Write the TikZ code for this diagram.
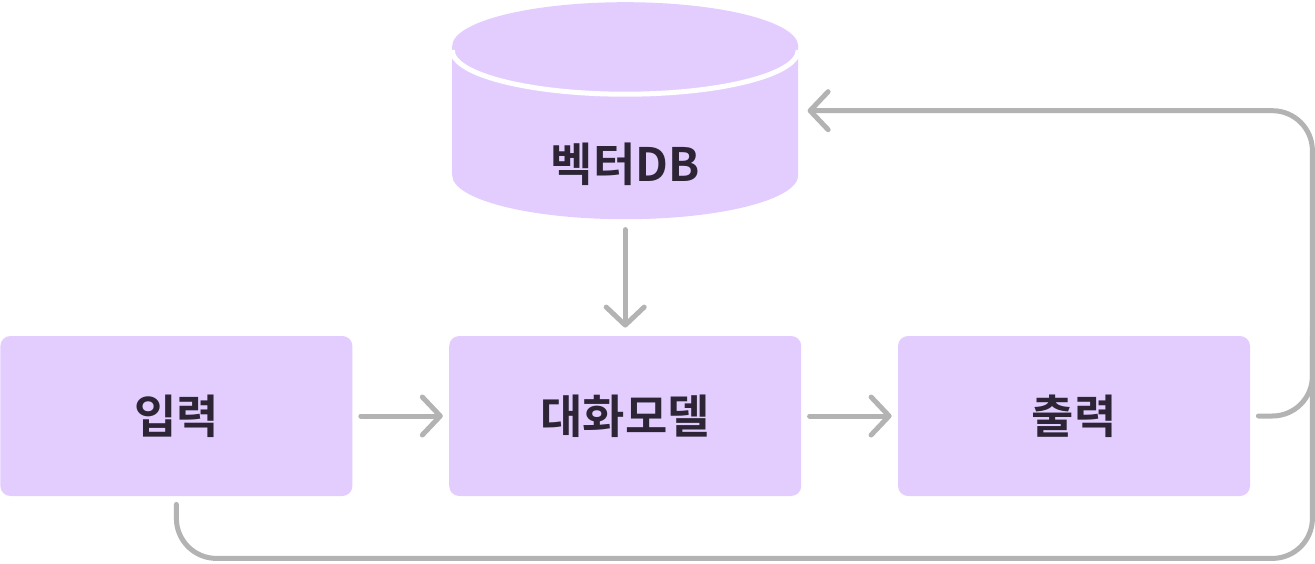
\documentclass[tikz,border=0pt]{standalone}
\usepackage{fontspec}
\setmainfont{Noto Sans CJK KR}[BoldFont={Noto Sans CJK KR Bold}]
\usepackage{tikz}
\usetikzlibrary{arrows.meta, positioning, calc}
\definecolor{lilac}{RGB}{227,205,255}
\definecolor{ink}{RGB}{45,37,54}
\definecolor{wire}{RGB}{179,179,179}
\def\lil{lilac}
\tikzstyle{box} = [rectangle, rounded corners=5pt, minimum width=176pt, minimum height=80pt, fill=\lil, text=ink, font=\bfseries\fontsize{23}{26}\selectfont]
\tikzstyle{cyl} = [rectangle, inner sep=0pt, minimum width=173pt, minimum height=108.5pt, path picture={
  \fill[\lil] ([yshift=-22pt]path picture bounding box.north west) -- ([yshift=22pt]path picture bounding box.south west)
    arc (180:360:86.5pt and 22pt) -- ([yshift=-22pt]path picture bounding box.north east)
    arc (0:180:86.5pt and 22pt) -- cycle;
  \draw[white, line width=2.5pt] ([yshift=-24pt]path picture bounding box.north west) arc (180:360:86.5pt and 22pt);
}]
\tikzstyle{dbtext} = [text=ink, font=\bfseries\fontsize{23}{26}\selectfont]
\tikzstyle{conn} = [draw=wire, line width=2.5pt, line cap=round, line join=round]
\tikzstyle{aro} = [conn, -{Straight Barb[length=9pt, width=19pt, round]}]

\begin{document}
\begin{tikzpicture}

  \node (in) [box] {입력};
  \node (chat) [box, right=48pt of in] {대화모델};
  \node (out) [box, right=48pt of chat] {출력};
  \node (db) [cyl, above=58pt of chat] {};
  \node (dblabel) [dbtext] at ([yshift=-26.75pt]db.center) {벡터DB};

  \coordinate (loopr) at ([xshift=31pt]out.east);

  \draw [aro, shorten <=4pt, shorten >=3pt] (in) -- (chat);
  \draw [aro, shorten <=4pt, shorten >=3pt] (chat) -- (out);
  \draw [aro, shorten <=5pt, shorten >=4pt] (db) -- (chat);

  % feedback loops
  \draw [aro, rounded corners=20pt, shorten <=4pt, shorten >=4.5pt]
    (out.east) -| (loopr |- db.east) -- (db.east);
  \draw [conn, rounded corners=20pt, shorten <=4pt]
    (in.south) |- ([yshift=-31pt]in.south -| loopr) -- (loopr |- chat.north);

  \path [use as bounding box] ([yshift=208pt]in.west) rectangle ++(657.5pt,-281.5pt);

\end{tikzpicture}
\end{document}
